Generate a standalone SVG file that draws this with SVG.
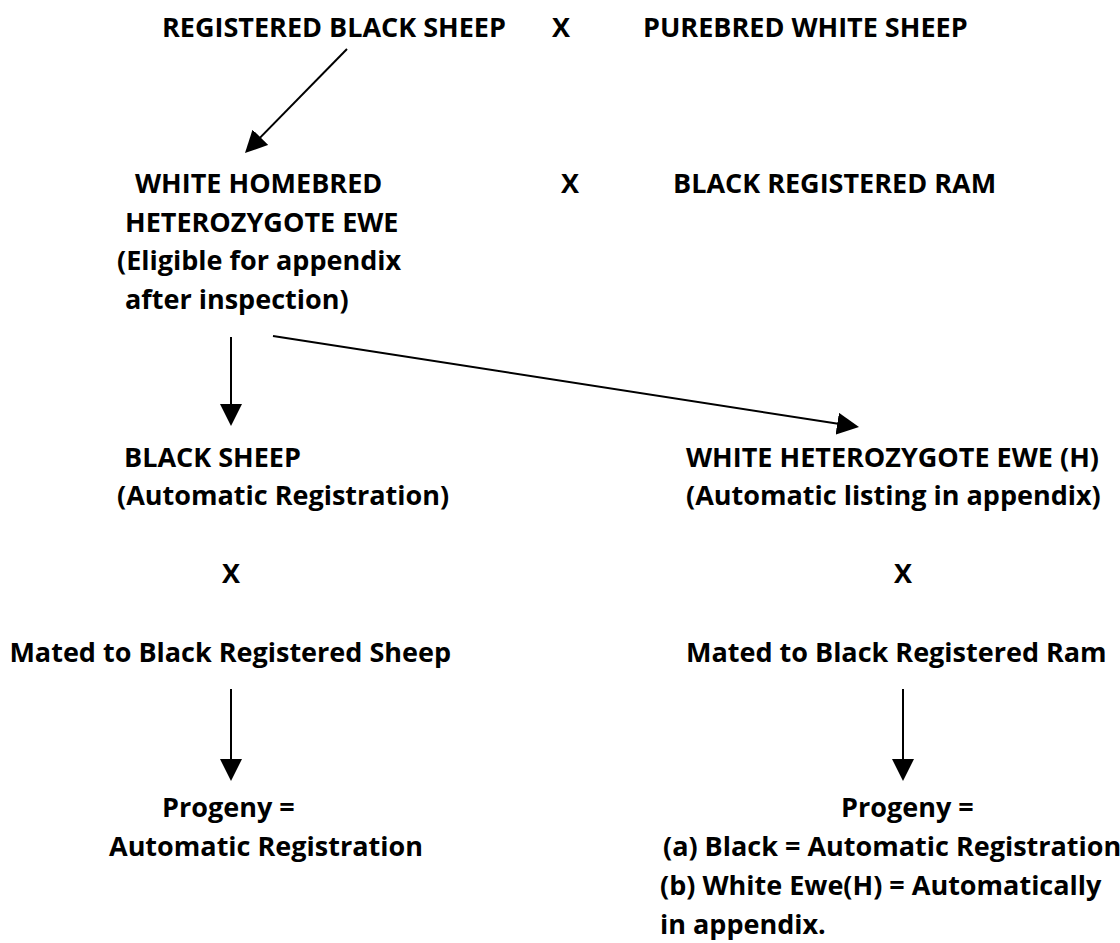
<svg xmlns="http://www.w3.org/2000/svg" width="1120" height="943" viewBox="0 0 1120 943">
<style>
text{font-family:"Open Sans","Liberation Sans",sans-serif;font-weight:700;font-size:27px;fill:#000}
.c{text-anchor:middle}
.e{text-anchor:end}
line{stroke:#000;stroke-width:2;fill:none}
</style>
<defs>
<marker id="ah" markerUnits="userSpaceOnUse" markerWidth="22" markerHeight="22" refX="14" refY="11" orient="auto">
<path d="M0,0 L22,11 L0,22 Z" fill="#000"/>
</marker>
</defs>
<rect width="1120" height="943" fill="#fff"/>
<g id="connectors">
<line x1="347" y1="49" x2="250.6" y2="147.3" marker-end="url(#ah)"/>
<line x1="231" y1="337" x2="231" y2="418" marker-end="url(#ah)"/>
<line x1="273" y1="336" x2="851.1" y2="425.8" marker-end="url(#ah)"/>
<line x1="231" y1="689" x2="231" y2="773" marker-end="url(#ah)"/>
<line x1="903" y1="689" x2="903" y2="773" marker-end="url(#ah)"/>
</g>
<g id="registered-black-sheep"><text x="162" y="37">REGISTERED BLACK SHEEP</text></g>
<g id="cross-1"><text class="c" x="561" y="37">X</text></g>
<g id="purebred-white-sheep"><text x="643" y="37">PUREBRED WHITE SHEEP</text></g>
<g id="white-homebred-ewe">
<text x="135" y="193">WHITE HOMEBRED</text>
<text x="125" y="232">HETEROZYGOTE EWE</text>
<text x="117" y="270">(Eligible for appendix</text>
<text x="125" y="309">after inspection)</text>
</g>
<g id="cross-2"><text class="c" x="570" y="193">X</text></g>
<g id="black-registered-ram"><text x="673" y="193">BLACK REGISTERED RAM</text></g>
<g id="black-sheep">
<text x="124" y="467">BLACK SHEEP</text>
<text x="117" y="505">(Automatic Registration)</text>
</g>
<g id="white-heterozygote-ewe">
<text x="686" y="467">WHITE HETEROZYGOTE EWE (H)</text>
<text x="686" y="505">(Automatic listing in appendix)</text>
</g>
<g id="cross-3"><text class="c" x="231" y="583">X</text></g>
<g id="cross-4"><text class="c" x="903" y="583">X</text></g>
<g id="mated-sheep"><text class="e" x="451" y="662">Mated to Black Registered Sheep</text></g>
<g id="mated-ram"><text x="686" y="662">Mated to Black Registered Ram</text></g>
<g id="progeny-left">
<text x="162" y="817">Progeny =</text>
<text x="109" y="856">Automatic Registration</text>
</g>
<g id="progeny-right">
<text x="841" y="817">Progeny =</text>
<text x="663" y="856">(a) Black = Automatic Registration</text>
<text x="660" y="895">(b) White Ewe(H) = Automatically</text>
<text x="660" y="934">in appendix.</text>
</g>
</svg>
